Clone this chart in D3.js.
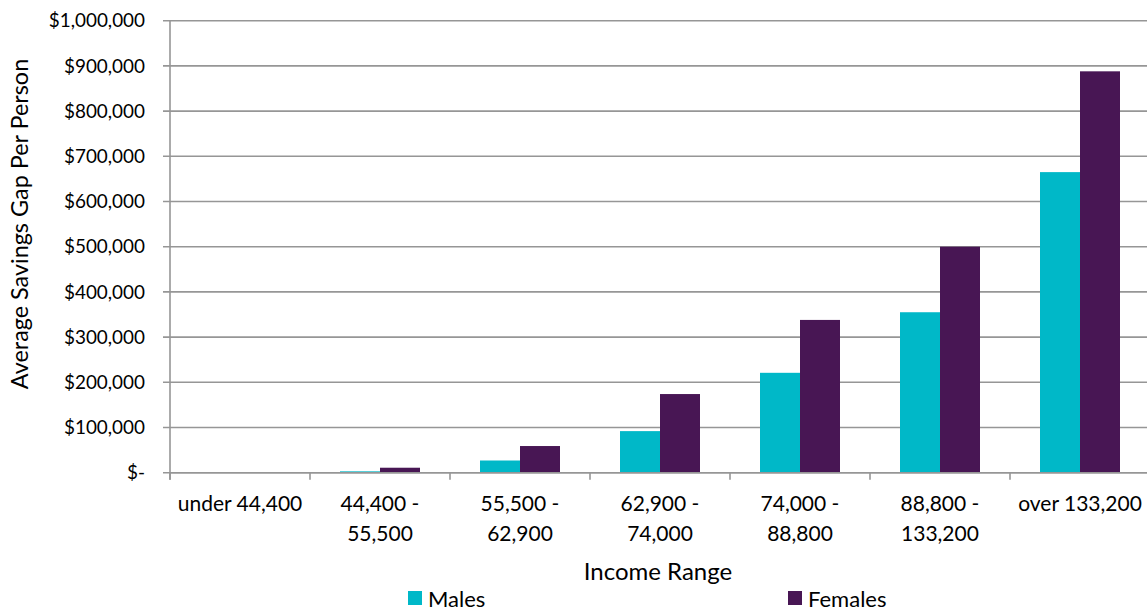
<!DOCTYPE html>
<html><head><meta charset="utf-8">
<script src="https://cdn.jsdelivr.net/npm/d3@7"></script>
<style>
body{margin:0;background:#fff;}
text{font-family:Lato,"Open Sans",sans-serif;fill:#000;}
</style></head>
<body><svg id="c" width="1147" height="612"></svg>
<script>
const categories = ["under 44,400","44,400 - 55,500","55,500 - 62,900","62,900 - 74,000","74,000 - 88,800","88,800 - 133,200","over 133,200"];
const categoryLines = [["under 44,400"],["44,400 -","55,500"],["55,500 -","62,900"],["62,900 -","74,000"],["74,000 -","88,800"],["88,800 -","133,200"],["over 133,200"]];
const males = [0, 3000, 27000, 92000, 221000, 355000, 665000];
const females = [0, 11000, 59000, 174000, 338000, 500000, 888000];
const seriesNames = ["Males","Females"];
const seriesColors = ["#00B8C8","#481654"];
const yTicks = [0,100000,200000,300000,400000,500000,600000,700000,800000,900000,1000000];

const svg = d3.select("#c");
const pLeft = 170, pRight = 1150, pTop = 20.7, pBottom = 472.7;

const x = d3.scaleBand().domain(categories).range([pLeft, pRight]).paddingInner(0).paddingOuter(0);
const xs = d3.scaleBand().domain(seriesNames).range([0, x.bandwidth()]).paddingInner(0).paddingOuter(0.75);
const y = d3.scaleLinear().domain([0, 1000000]).range([pBottom, pTop]);

const fmt = v => v === 0 ? "$-" : "$" + d3.format(",")(v);

// gridlines
svg.append("g").selectAll("line").data(yTicks).join("line")
  .attr("x1", pLeft - 7).attr("x2", pRight)
  .attr("y1", d => y(d)).attr("y2", d => y(d))
  .attr("stroke", "#969696").attr("stroke-width", 1.6);

// y labels
svg.append("g").selectAll("text").data(yTicks).join("text")
  .attr("x", pLeft - 25).attr("y", d => y(d)).attr("dy", "0.35em")
  .attr("text-anchor", "end").style("font-size", "18.9px").text(fmt);

// bars
const data = categories.map((c, i) => ({c, vals: [males[i], females[i]]}));
const g = svg.append("g").selectAll("g").data(data).join("g")
  .attr("transform", d => `translate(${x(d.c)},0)`);
g.selectAll("rect").data(d => d.vals.map((v, j) => ({v, s: seriesNames[j], col: seriesColors[j]})))
  .join("rect")
  .attr("x", d => xs(d.s)).attr("width", xs.bandwidth())
  .attr("y", d => y(d.v)).attr("height", d => pBottom - y(d.v))
  .attr("fill", d => d.col);

// axes lines
svg.append("line").attr("x1", pLeft).attr("x2", pLeft).attr("y1", pTop).attr("y2", pBottom + 7)
  .attr("stroke", "#969696").attr("stroke-width", 1.6);
svg.append("line").attr("x1", pLeft).attr("x2", pRight).attr("y1", pBottom).attr("y2", pBottom)
  .attr("stroke", "#969696").attr("stroke-width", 1.6);
const tickXs = categories.map(c => x(c)).concat([pRight]);
svg.append("g").selectAll("line").data(tickXs).join("line")
  .attr("x1", d => d).attr("x2", d => d).attr("y1", pBottom).attr("y2", pBottom + 7)
  .attr("stroke", "#969696").attr("stroke-width", 1.6);

// x labels
const xl = svg.append("g").selectAll("text").data(categories).join("text")
  .attr("x", d => x(d) + x.bandwidth() / 2).attr("y", 511)
  .attr("text-anchor", "middle").style("font-size", "21px");
xl.each(function(d, i){
  const t = d3.select(this);
  categoryLines[i].forEach((ln, k) => {
    t.append("tspan").attr("x", x(d) + x.bandwidth() / 2).attr("dy", k === 0 ? 0 : 30).text(ln);
  });
});

// axis titles
svg.append("text").attr("transform", "translate(28,224) rotate(-90)")
  .attr("text-anchor", "middle").style("font-size", "23.4px").text("Average Savings Gap Per Person");
svg.append("text").attr("x", 658).attr("y", 580).attr("text-anchor", "middle")
  .style("font-size", "24px").text("Income Range");

// legend
const legX = [408, 788];
const leg = svg.append("g").selectAll("g").data(seriesNames).join("g")
  .attr("transform", (d, i) => `translate(${legX[i]},0)`);
leg.append("rect").attr("x", 0).attr("y", 591).attr("width", 14).attr("height", 14)
  .attr("fill", (d, i) => seriesColors[i]);
leg.append("text").attr("x", 20).attr("y", 606.5).style("font-size", "22px").text(d => d);
</script></body></html>
